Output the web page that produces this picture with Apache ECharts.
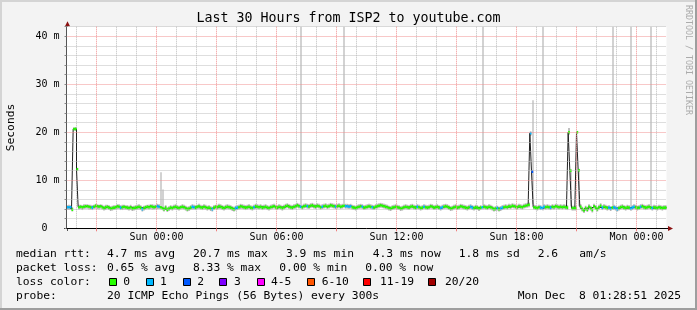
<!DOCTYPE html>
<html><head><meta charset="utf-8">
<script src="https://cdn.jsdelivr.net/npm/echarts@6/dist/echarts.min.js"></script>
<style>html,body{margin:0;padding:0;background:#f3f3f3}#c{width:697px;height:310px}</style>
</head><body><div id="c"></div>
<script>
// ---- data (5-minute steps from Sat 19:30 to Mon 01:30) ----
const startHour = 19, startMin = 30, stepMin = 5, nSteps = 361;
const dayNames = ['Sat', 'Sun', 'Mon'];
const tickLabels = ['Sun 00:00', 'Sun 06:00', 'Sun 12:00', 'Sun 18:00', 'Mon 00:00'];
const yTickValues = [0, 10, 20, 30, 40];
const yTickLabels = ['0  ', '10 m', '20 m', '30 m', '40 m'];

// median rtt in ms
const median = [
4.4,4.4,4.4,3.9,20.7,20.7,12.3,4.4,4.5,4.4,4.5,4.6,
4.6,4.5,4.4,4.3,4.5,4.7,4.6,4.5,4.6,4.4,4.2,4.4,
4.5,4.3,4.1,4.2,4.3,4.4,4.6,4.5,4.3,4.4,4.5,4.4,
4.3,4.2,4.4,4.1,4.2,4.3,4.4,4.5,4.3,4.0,4.2,4.4,
4.5,4.4,4.6,4.5,4.4,4.5,4.6,4.5,4.4,4.2,4.0,4.3,
3.9,4.1,4.3,4.2,4.4,4.5,4.3,4.2,4.4,4.5,4.4,4.2,
4.0,4.1,4.3,4.5,4.4,4.3,4.5,4.6,4.4,4.3,4.5,4.4,
4.2,4.3,4.1,4.0,4.3,4.5,4.4,4.6,4.5,4.3,4.2,4.4,
4.5,4.4,4.3,4.1,4.0,4.2,4.3,4.4,4.6,4.5,4.4,4.3,
4.4,4.5,4.3,4.2,4.4,4.6,4.5,4.4,4.5,4.3,4.4,4.5,
4.3,4.2,4.4,4.5,4.6,4.4,4.3,4.5,4.4,4.2,4.4,4.6,
4.7,4.5,4.4,4.3,4.5,4.6,4.8,4.6,4.5,4.4,4.6,4.7,
4.6,4.5,4.7,4.8,4.6,4.5,4.7,4.6,4.4,4.5,4.6,4.7,
4.5,4.6,4.8,4.7,4.6,4.5,4.6,4.7,4.5,4.6,4.7,4.6,
4.6,4.5,4.6,4.4,4.3,4.2,4.4,4.5,4.6,4.5,4.3,4.4,
4.5,4.6,4.5,4.4,4.3,4.5,4.6,4.7,4.8,4.7,4.6,4.5,
4.4,4.2,4.1,4.3,4.4,4.5,4.4,4.3,4.1,4.2,4.4,4.5,
4.4,4.3,4.5,4.6,4.4,4.3,4.5,4.4,4.2,4.3,4.5,4.4,
4.3,4.4,4.6,4.5,4.3,4.4,4.5,4.3,4.2,4.4,4.5,4.6,
4.5,4.3,4.1,4.2,4.4,4.5,4.3,4.4,4.6,4.5,4.4,4.3,
4.2,4.4,4.5,4.3,4.2,4.4,4.3,4.1,4.3,4.4,4.5,4.4,
4.3,4.5,4.4,4.2,4.0,4.1,4.2,4.0,4.1,4.3,4.4,4.5,
4.4,4.6,4.5,4.7,4.6,4.5,4.4,4.6,4.5,4.4,4.6,4.7,
4.8,4.9,19.8,11.8,4.4,4.3,4.2,4.4,4.3,4.2,4.5,4.4,
4.5,4.4,4.3,4.5,4.4,4.6,4.5,4.4,4.5,4.4,4.5,4.4,
4.3,20.0,12.0,4.2,4.2,4.2,20.0,12.1,4.5,4.0,3.7,4.2,
3.9,4.5,4.2,3.8,4.6,4.3,4.0,4.4,4.7,4.3,4.5,4.4,
4.2,4.3,4.1,4.3,4.4,4.2,4.0,4.2,4.4,4.5,4.3,4.2,
4.4,4.3,4.1,4.3,4.5,4.4,4.2,4.3,4.5,4.6,4.4,4.3,
4.4,4.5,4.3,4.2,4.4,4.3,4.2,4.4,4.3,4.2,4.3,4.3,
4.3
];
// smoke (ping spread) lower and upper bounds in ms
const smokeLo = [
3.9,3.8,3.9,3.5,20.4,20.3,12.0,3.9,4.0,3.8,4.0,4.1,
4.1,3.9,3.9,3.8,4.0,4.1,4.0,3.9,4.1,3.9,3.7,3.8,
4.0,3.8,3.6,3.7,3.8,3.9,4.0,4.0,3.8,3.8,3.9,3.9,
3.8,3.7,3.8,3.6,3.7,3.8,3.9,3.9,3.8,3.5,3.7,3.9,
4.0,3.9,4.0,3.9,3.9,4.0,4.0,4.0,3.9,3.7,3.5,3.8,
3.4,3.6,3.8,3.7,3.9,3.9,3.8,3.7,3.9,4.0,3.9,3.7,
3.5,3.6,3.8,3.9,3.9,3.8,4.0,4.0,3.9,3.8,3.9,3.9,
3.7,3.8,3.6,3.5,3.8,4.0,3.9,4.0,4.0,3.8,3.7,3.9,
4.0,3.9,3.8,3.6,3.5,3.7,3.8,3.9,4.0,4.0,3.9,3.8,
3.9,4.0,3.8,3.7,3.9,4.0,4.0,3.9,4.0,3.8,3.9,4.0,
3.8,3.7,3.9,4.0,4.1,3.9,3.8,4.0,3.9,3.7,3.9,4.1,
4.2,4.0,3.9,3.8,4.0,4.1,4.3,4.1,4.0,3.9,4.1,4.2,
4.1,4.0,4.2,4.3,4.1,4.0,4.2,4.1,3.9,4.0,4.1,4.2,
4.0,4.1,4.3,4.2,4.1,4.0,4.1,4.2,4.0,4.1,4.2,4.1,
4.1,4.0,4.1,3.9,3.8,3.7,3.9,4.0,4.1,4.0,3.8,3.9,
4.0,4.1,4.0,3.9,3.8,4.0,4.1,4.2,4.3,4.2,4.1,4.0,
3.9,3.7,3.6,3.8,3.9,4.0,3.9,3.8,3.6,3.7,3.9,4.0,
3.9,3.8,4.0,4.1,3.9,3.8,4.0,3.9,3.7,3.8,4.0,3.9,
3.8,3.9,4.1,4.0,3.8,3.9,4.0,3.8,3.7,3.9,4.0,4.1,
4.0,3.8,3.6,3.7,3.9,4.0,3.8,3.9,4.1,4.0,3.9,3.8,
3.7,3.9,4.0,3.8,3.7,3.9,3.8,3.6,3.8,3.9,4.0,3.9,
3.8,4.0,3.9,3.7,3.5,3.6,3.7,3.5,3.6,3.8,3.9,4.0,
3.9,4.1,4.0,4.2,4.1,4.0,3.9,4.1,4.0,3.9,4.1,4.2,
4.3,4.4,19.3,5.0,3.9,3.8,3.7,3.9,3.8,3.7,4.0,3.9,
4.0,3.9,3.8,4.0,3.9,4.1,4.0,3.9,4.0,3.9,4.0,3.9,
3.8,19.5,4.6,3.7,3.7,3.7,19.8,4.6,4.0,3.5,3.2,3.7,
3.4,4.0,3.7,3.3,4.1,3.8,3.5,3.9,4.2,3.8,4.0,3.9,
3.7,3.8,3.6,3.8,3.9,3.7,3.5,3.7,3.9,4.0,3.8,3.7,
3.9,3.8,3.6,3.8,4.0,3.9,3.7,3.8,4.0,4.1,3.9,3.8,
3.9,4.0,3.8,3.7,3.9,3.8,3.7,3.9,3.8,3.7,3.8,3.8,
3.8
];
const smokeHi = [
4.8,4.9,4.8,4.4,21.0,21.1,12.6,4.9,4.9,4.8,5.0,5.0,
5.0,4.9,4.9,4.8,4.9,5.1,5.0,4.9,5.0,4.9,4.7,4.9,
4.9,4.8,4.6,4.7,4.8,4.8,5.0,5.0,4.8,4.9,4.9,4.8,
4.8,4.7,4.9,4.6,4.7,4.8,4.9,5.0,4.8,4.5,4.7,4.8,
4.9,4.9,5.0,5.0,4.9,4.9,5.1,5.0,11.7,8.1,4.5,4.8,
4.4,4.6,4.8,4.7,4.9,5.0,4.8,4.7,4.8,5.0,4.9,4.7,
4.5,4.6,4.8,5.0,4.9,4.8,4.9,5.1,4.9,4.8,5.0,4.9,
4.7,4.8,4.6,4.5,4.8,4.9,4.9,5.1,5.0,4.8,4.7,4.9,
5.0,4.9,4.8,4.6,4.5,4.7,4.8,4.9,5.1,5.0,4.9,4.8,
4.9,5.0,4.8,4.7,4.9,5.1,5.0,4.9,5.0,4.8,4.9,5.0,
4.8,4.7,4.9,5.0,5.1,4.9,4.8,5.0,4.9,4.7,4.9,5.1,
5.2,5.0,4.9,4.8,5.0,5.1,5.3,5.1,50,4.9,5.1,5.2,
5.1,5.0,5.2,5.3,5.1,5.0,5.2,5.1,4.9,5.0,5.1,5.2,
5.0,5.1,5.3,5.2,5.1,5.0,5.1,5.2,5.0,5.1,50,5.1,
5.1,5.0,5.1,4.9,4.8,4.7,4.9,5.0,5.1,5.0,4.8,4.9,
5.0,5.1,5.0,4.9,4.8,5.0,5.1,5.2,5.3,5.2,5.1,5.0,
4.9,4.7,4.6,4.8,4.9,5.0,4.9,4.8,4.6,4.7,4.9,5.0,
4.9,4.8,5.0,5.1,4.9,4.8,5.0,4.9,4.7,4.8,5.0,4.9,
4.8,4.9,5.1,5.0,4.8,4.9,5.0,4.8,4.7,4.9,5.0,5.1,
5.0,4.8,4.6,4.7,4.9,5.0,4.8,4.9,5.1,5.0,4.9,4.8,
4.7,4.9,5.0,4.8,4.7,4.9,4.8,4.6,4.8,50,5.0,4.9,
4.8,5.0,4.9,4.7,4.5,4.6,4.7,4.5,4.6,4.8,4.9,5.0,
4.9,5.1,5.0,5.2,5.1,5.0,4.9,5.1,5.0,4.9,5.1,5.2,
5.3,5.4,20.2,26.7,4.9,4.8,4.7,4.9,4.8,50,5.0,4.9,
5.0,4.9,4.8,5.0,4.9,5.1,5.0,4.9,5.0,4.9,5.0,4.9,
4.8,20.9,12.3,4.7,4.7,4.7,20.3,12.4,5.0,4.5,4.2,4.7,
4.4,5.0,4.7,4.3,5.1,4.8,4.5,4.9,5.2,4.8,5.0,4.9,
4.7,4.8,4.6,50,4.9,4.7,4.5,4.7,4.9,5.0,4.8,4.7,
4.9,4.8,50,4.8,5.0,4.9,4.7,4.8,5.0,5.1,4.9,4.8,
4.9,5.0,50,4.7,4.9,4.8,4.7,4.9,4.8,4.7,4.8,4.8,
4.8
];
// [step index, loss colour bucket] for steps with packet loss
const lossEvents = [
[0,1],[1,1],[2,1],[15,1],[32,1],[45,1],[54,1],[55,1],[75,1],[76,1],[87,1],
[101,1],[102,1],[112,1],[140,1],[144,1],[153,1],[161,1],[167,1],[168,1],[169,1],[170,1],
[177,1],[183,1],[210,1],[214,1],[224,1],[225,1],[242,1],[243,1],[249,1],[258,1],[260,1],[261,1],
[278,1],[279,2],[284,1],[285,1],[286,1],[290,1],[321,1],[325,1],[326,1],[328,1],[329,1],[330,1],
[338,1],[339,1],[340,1],[344,1],[351,1]
];
const lossColors = ['#26ff00','#00b8ff','#0059ff','#7e00ff','#ff00ff','#ff5500','#ff0000','#a10000'];
const lossLabels = ['0','1','2','3','4-5','6-10','11-19','20/20'];
const rttLabels = ['4.7 ms avg','20.7 ms max','3.9 ms min','4.3 ms now','1.8 ms sd','2.6','am/s'];
const lossStats = ['0.65 % avg','8.33 % max','0.00 % min','0.00 % now'];

// ---- build tables ----
const categories = [];
for (let i = 0; i < nSteps; i++) {
  const t = startHour * 60 + startMin + i * stepMin;
  const d = Math.floor(t / 1440), h = Math.floor((t % 1440) / 60), m = t % 60;
  categories.push(dayNames[d] + ' ' + String(h).padStart(2,'0') + ':' + String(m).padStart(2,'0'));
}
const hourOf = v => parseInt(v.slice(4, 6), 10);
const minOf = v => parseInt(v.slice(7, 9), 10);
const isMajor = (i, v) => minOf(v) === 0 && hourOf(v) % 3 === 0;
const isMinor = (i, v) => minOf(v) === 0 && hourOf(v) % 3 !== 0;

const loss = new Array(nSteps).fill(0);
lossEvents.forEach(([i, l]) => { loss[i] = l; });
const smokeData = median.map((m, i) => [i, smokeLo[i], smokeHi[i]]);
const lineData = median.map((m, i) => [i, m, loss[i]]);

const MONO = '"DejaVu Sans Mono", monospace';
const chart = echarts.init(document.getElementById('c'), null, {renderer: 'canvas'});

const option = {
  animation: false,
  backgroundColor: '#f3f3f3',
  grid: {left: 66.5, top: 26.7, width: 600, height: 201.6, show: true, backgroundColor: '#ffffff', borderWidth: 0},
  xAxis: [{
    type: 'category', data: categories, boundaryGap: false, position: 'bottom', z: 5,
    axisLine: {show: true, lineStyle: {color: '#000000', width: 1}},
    axisTick: {show: true, interval: isMajor, length: 3, lineStyle: {color: '#f08080'}},
    axisLabel: {show: true, interval: (i, v) => tickLabels.includes(v), fontFamily: MONO, fontSize: 10, color: '#000', margin: 4.5},
    splitLine: {show: true, interval: isMajor, lineStyle: {color: '#f09090', type: [1, 1], width: 1}}
  }, {
    type: 'category', data: categories, boundaryGap: false, position: 'top',
    axisLine: {show: false}, axisTick: {show: false}, axisLabel: {show: false},
    splitLine: {show: true, interval: isMinor, lineStyle: {color: '#bdbdbd', type: [1, 1], width: 1}}
  }],
  yAxis: {
    type: 'value', min: 0, max: 42, interval: 2, z: 5,
    axisLine: {show: true, lineStyle: {color: '#555555'}},
    axisTick: {show: true, length: 2, lineStyle: {color: '#888'}},
    axisLabel: {fontFamily: MONO, fontSize: 10, color: '#000', margin: 7,
      formatter: v => { const k = yTickValues.indexOf(v); return k >= 0 ? yTickLabels[k] : ''; }},
    splitLine: {show: true, lineStyle: {color: ['#f09090','#bdbdbd','#bdbdbd','#bdbdbd','#bdbdbd'], type: [1, 1]}}
  },
  series: [{
    type: 'custom', name: 'smoke', z: 2, xAxisIndex: 0, yAxisIndex: 0,
    encode: {x: 0, y: [1, 2]}, data: smokeData,
    renderItem: function (params, api) {
      const i = api.value(0), lo = api.value(1), hi = api.value(2);
      const a = api.coord([i, lo]), b = api.coord([i, hi]);
      const w = api.size([1, 0])[0];
      const tall = (hi - lo) > 3;
      const x0 = tall ? Math.round(a[0]) : a[0];
      const ww = tall ? Math.max(2, Math.round(w)) : w;
      const cs = params.coordSys;
      const r = echarts.graphic.clipRectByRect({x: x0, y: b[1], width: ww, height: a[1] - b[1]},
        {x: cs.x, y: cs.y, width: cs.width, height: cs.height});
      if (!r) return;
      return {type: 'rect', shape: r, style: {fill: tall ? '#d2d2d2' : '#b4b4b4'}};
    }
  }, {
    type: 'line', name: 'median', z: 3, data: median, step: 'end', symbol: 'none',
    lineStyle: {color: '#202020', width: 1}, silent: true
  }, {
    type: 'custom', name: 'loss', z: 4, encode: {x: 0, y: 1}, data: lineData, clip: true,
    renderItem: function (params, api) {
      const i = api.value(0);
      if (i >= nSteps - 1) return;
      const p = api.coord([i, api.value(1)]);
      const w = api.size([1, 0])[0];
      return {type: 'line', shape: {x1: p[0], y1: p[1], x2: p[0] + w, y2: p[1]},
        style: {stroke: lossColors[api.value(2)], lineWidth: 2.6, lineCap: 'butt'}};
    }
  }]
};
chart.setOption(option);

// ---- texts, legend, frame, arrows ----
const g = [];
const txt = (text, x, y, size, opts) => g.push(Object.assign({type: 'text', x: x, y: y, silent: true,
  style: Object.assign({text: text, fill: '#000', font: size + 'px ' + MONO, align: 'left', verticalAlign: 'middle'}, (opts && opts.style) || {})},
  opts ? {rotation: opts.rotation || 0} : {}));
txt('Last 30 Hours from ISP2 to youtube.com', 348.5, 19, 13.3, {style: {align: 'center'}});
txt('Seconds', 11, 127.5, 11.3, {rotation: Math.PI / 2, style: {align: 'center'}});
txt('RRDTOOL / TOBI OETIKER', 688, 60, 8.3, {rotation: -Math.PI / 2, style: {align: 'center', fill: '#ababab'}});

const LF = 11.3;
txt('median rtt:', 16, 254, LF);
[107, 193, 286, 372.7, 458.7, 537.7, 579.3].forEach((x, k) => txt(rttLabels[k], x, 254, LF));
txt('packet loss:', 16, 268, LF);
[107, 193, 279.3, 365.3].forEach((x, k) => txt(lossStats[k], x, 268, LF));
txt('loss color:', 16, 282, LF);
const boxX = [109, 145.7, 182.7, 219.3, 256.7, 307.3, 363.3, 428.3];
const labX = [123.3, 160, 197.3, 234, 271, 321.7, 380, 445];
lossLabels.forEach((l, k) => {
  g.push({type: 'rect', silent: true, shape: {x: Math.round(boxX[k]) + 0.5, y: 278.5, width: 7, height: 7},
    style: {fill: lossColors[k], stroke: '#000', lineWidth: 1}});
  txt(l, labX[k], 282, LF);
});
txt('probe:', 16, 296, LF);
txt('20 ICMP Echo Pings (56 Bytes) every 300s', 107, 296, LF);
txt('Mon Dec  8 01:28:51 2025', 681, 296, LF, {style: {align: 'right'}});

// frame
g.push({type: 'rect', silent: true, shape: {x: 0, y: 0, width: 697, height: 2}, style: {fill: '#d4d4d4'}});
g.push({type: 'rect', silent: true, shape: {x: 0, y: 0, width: 2, height: 310}, style: {fill: '#d4d4d4'}});
g.push({type: 'rect', silent: true, shape: {x: 695, y: 0, width: 2, height: 310}, style: {fill: '#9e9e9e'}});
g.push({type: 'rect', silent: true, shape: {x: 0, y: 308, width: 697, height: 2}, style: {fill: '#9e9e9e'}});

// arrows at axis ends
const xl = chart.convertToPixel({xAxisIndex: 0}, categories[0]);
const xr = chart.convertToPixel({xAxisIndex: 0}, categories[nSteps - 1]);
const yb = chart.convertToPixel({yAxisIndex: 0}, 0);
const yt = chart.convertToPixel({yAxisIndex: 0}, 42);
const ax = Math.round(xl) + 0.5, ay = Math.round(yb) + 0.5;
g.push({type: 'line', silent: true, shape: {x1: ax, y1: yt, x2: ax, y2: yt - 1.5}, style: {stroke: '#555', lineWidth: 1}});
g.push({type: 'polygon', silent: true, shape: {points: [[ax - 2.5, yt - 0.5], [ax + 2.5, yt - 0.5], [ax, yt - 5.5]]}, style: {fill: '#8b1212'}});
g.push({type: 'line', silent: true, shape: {x1: xr, y1: ay, x2: xr + 1.5, y2: ay}, style: {stroke: '#000', lineWidth: 1}});
g.push({type: 'polygon', silent: true, shape: {points: [[xr + 1.5, ay - 2.5], [xr + 1.5, ay + 2.5], [xr + 6.5, ay]]}, style: {fill: '#8b1212'}});
g.push({type: 'line', silent: true, shape: {x1: ax, y1: ay, x2: ax, y2: ay + 2.5}, style: {stroke: '#555', lineWidth: 1}});
g.push({type: 'line', silent: true, shape: {x1: ax - 3.5, y1: ay, x2: ax, y2: ay}, style: {stroke: '#000', lineWidth: 1}});

chart.setOption({graphic: {elements: g}});
</script></body></html>
